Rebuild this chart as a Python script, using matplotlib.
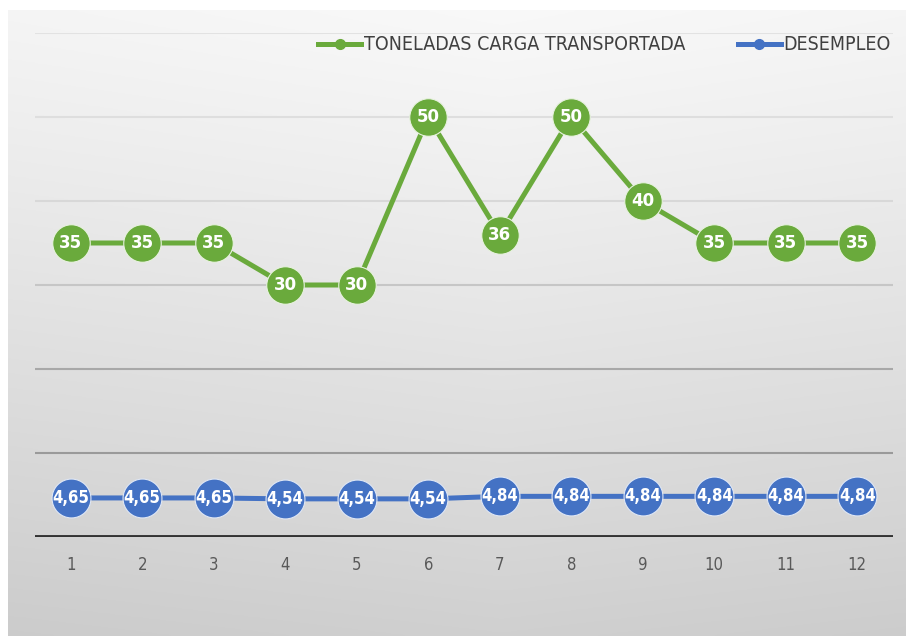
import numpy as np
import matplotlib
matplotlib.use('Agg')
import matplotlib.pyplot as plt
from matplotlib.lines import Line2D

# data
months = [1, 2, 3, 4, 5, 6, 7, 8, 9, 10, 11, 12]
toneladas = [35, 35, 35, 30, 30, 50, 36, 50, 40, 35, 35, 35]
desempleo = [4.65, 4.65, 4.65, 4.54, 4.54, 4.54, 4.84, 4.84, 4.84, 4.84, 4.84, 4.84]
grid_levels = [10, 20, 30, 40, 50, 60]
grid_colors = ['#9a9a9a', '#a8a8a8', '#c6c6c6', '#d8d8d8', '#dedede', '#e2e2e2']

GREEN = '#6aaa3c'
BLUE = '#4472c4'

fig = plt.figure(figsize=(9.06, 6.36), dpi=100)
fig.patch.set_facecolor('white')

# gradient background of the chart area
bg = fig.add_axes([8 / 906, 0, 1 - 8 / 906, 1 - 10 / 636])
yy = np.linspace(0, 1, 300)[:, None]
xx = np.linspace(0, 1, 300)[None, :]
shade = 0.975 - 0.16 * yy ** 1.1 - 0.03 * np.abs(xx - 0.55)
bg.imshow(np.dstack([shade] * 3), aspect='auto', extent=[0, 1, 1, 0], vmin=0, vmax=1)
bg.axis('off')

ax = fig.add_axes([35 / 906, 1 - 537 / 636, 858 / 906, 504 / 636])
ax.set_facecolor('none')
ax.set_xlim(0.5, 12.5)
ax.set_ylim(0, 60)

for lvl, c in zip(grid_levels, grid_colors):
    ax.axhline(lvl, color=c, lw=1.5, zorder=1)
ax.axhline(0, color='#333333', lw=2.8, zorder=2)

ax.plot(months, toneladas, color=GREEN, lw=3.6, marker='o', ms=27,
        markerfacecolor=GREEN, markeredgecolor='#e8f2e0', markeredgewidth=0.8, zorder=3)
ax.plot(months, desempleo, color=BLUE, lw=3.6, marker='o', ms=28,
        markerfacecolor=BLUE, markeredgecolor='#dfe7f5', markeredgewidth=0.8, zorder=3)

for m, v in zip(months, toneladas):
    ax.text(m, v, str(v), color='white', fontsize=12, fontweight='bold',
            ha='center', va='center', zorder=4)
for m, v in zip(months, desempleo):
    ax.text(m, v, f'{v:.2f}'.replace('.', ','), color='white', fontsize=12,
            fontweight='bold', fontstretch='condensed', ha='center', va='center', zorder=4)

ax.set_xticks(months)
ax.set_xticklabels([str(m) for m in months], fontsize=12, color='#595959',
                   fontstretch='condensed')
ax.tick_params(axis='x', length=0, pad=14)
ax.set_yticks([])
for s in ax.spines.values():
    s.set_visible(False)

handles = [
    Line2D([0], [0], color=GREEN, lw=3.6, marker='o', ms=7, markerfacecolor=GREEN),
    Line2D([0], [0], color=BLUE, lw=3.6, marker='o', ms=7, markerfacecolor=BLUE),
]
ax.legend(handles, ['TONELADAS CARGA TRANSPORTADA', 'DESEMPLEO'], ncol=2, frameon=False,
          loc='upper right', bbox_to_anchor=(1.018, 1.03), handlelength=2.2, handletextpad=0.15,
          columnspacing=2.7, prop={'size': 14, 'stretch': 'condensed'}, labelcolor='#404040')

fig.savefig('out.png', dpi=100)
